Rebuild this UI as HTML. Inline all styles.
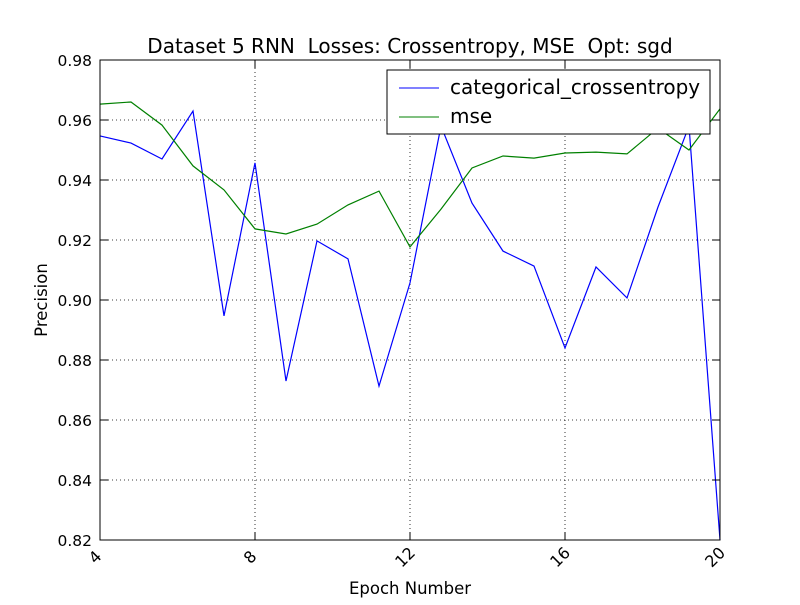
<!DOCTYPE html>
<html><head><meta charset="utf-8"><style>
body{margin:0;background:#fff}
text{white-space:pre}
</style></head><body>
<svg id="chart" width="800" height="600" xmlns="http://www.w3.org/2000/svg" font-family="DejaVu Sans, Liberation Sans, sans-serif">
<rect width="800" height="600" fill="#fff"/>
<g id="grid"></g>
<g id="lines"></g>
<rect x="100" y="60" width="620" height="480" fill="none" stroke="#000" stroke-width="1"/>
<g id="ticks"></g>
<text x="410" y="53" text-anchor="middle" font-size="20" xml:space="preserve">Dataset 5 RNN  Losses: Crossentropy, MSE  Opt: sgd</text>
<text x="410" y="594" text-anchor="middle" font-size="16.5">Epoch Number</text>
<text transform="translate(47,300) rotate(-90)" text-anchor="middle" font-size="16.5">Precision</text>
<g>
<rect x="387" y="70" width="323" height="64" fill="#fff" stroke="#000"/>
<line x1="399" y1="88" x2="439" y2="88" stroke="#0000ff"/>
<text x="450" y="94" font-size="20">categorical_crossentropy</text>
<line x1="399" y1="117" x2="439" y2="117" stroke="#008000"/>
<text x="450" y="123" font-size="20">mse</text>
</g>
</svg>
<script>
const epochs=[4,4.8,5.6,6.4,7.2,8,8.8,9.6,10.4,11.2,12,12.8,13.6,14.4,15.2,16,16.8,17.6,18.4,19.2,20];
const crossentropy=[0.9547,0.9523,0.947,0.963,0.8947,0.9457,0.873,0.9197,0.9137,0.8713,0.9057,0.958,0.9323,0.9163,0.9113,0.884,0.911,0.9007,0.931,0.958,0.82];
const mse=[0.9653,0.966,0.9583,0.9447,0.9367,0.9237,0.922,0.9253,0.9317,0.9363,0.9177,0.9303,0.944,0.948,0.9473,0.949,0.9493,0.9487,0.9573,0.95,0.9637];
const xTicks=[4,8,12,16,20];
const yTicks=[0.82,0.84,0.86,0.88,0.90,0.92,0.94,0.96,0.98];
const NS="http://www.w3.org/2000/svg";
const X=v=>100+(v-4)/16*620, Y=v=>540-(v-0.82)/0.16*480;
function mk(t,a,p){const e=document.createElementNS(NS,t);for(const k in a)e.setAttribute(k,a[k]);p.appendChild(e);return e;}
const g=document.getElementById('grid'),tk=document.getElementById('ticks'),ln=document.getElementById('lines');
xTicks.forEach(v=>{
 const l=mk('line',{x1:X(v),x2:X(v),y1:60,y2:540,stroke:'#000','stroke-dasharray':'1,3','stroke-width':0.8},g);
 
 
 mk('line',{x1:X(v),x2:X(v),y1:540,y2:532,stroke:'#000'},tk);
 mk('line',{x1:X(v),x2:X(v),y1:60,y2:68,stroke:'#000'},tk);
 const t=mk('text',{'font-size':16,'text-anchor':'middle',transform:`translate(${X(v)-1},${561}) rotate(-45)`},tk);
 t.textContent=v;
 
 
});
yTicks.forEach(v=>{
 const l=mk('line',{x1:100,x2:720,y1:Y(v),y2:Y(v),stroke:'#000','stroke-dasharray':'1,3','stroke-width':0.8},g);
 
 
 mk('line',{x1:100,x2:108,y1:Y(v),y2:Y(v),stroke:'#000'},tk);
 mk('line',{x1:712,x2:720,y1:Y(v),y2:Y(v),stroke:'#000'},tk);
 const t=mk('text',{x:92,y:Y(v)+6,'font-size':15.5,'text-anchor':'end'},tk);
 t.textContent=v.toFixed(2);
 
 
});
function line(vals,color,name){
 const p=mk('polyline',{points:vals.map((v,i)=>X(epochs[i])+','+Y(v)).join(' '),fill:'none',stroke:color,'stroke-width':1.2},ln);
 
 
}
line(crossentropy,'#0000ff','crossentropy-line');
line(mse,'#008000','mse-line');
</script>
</body></html>
